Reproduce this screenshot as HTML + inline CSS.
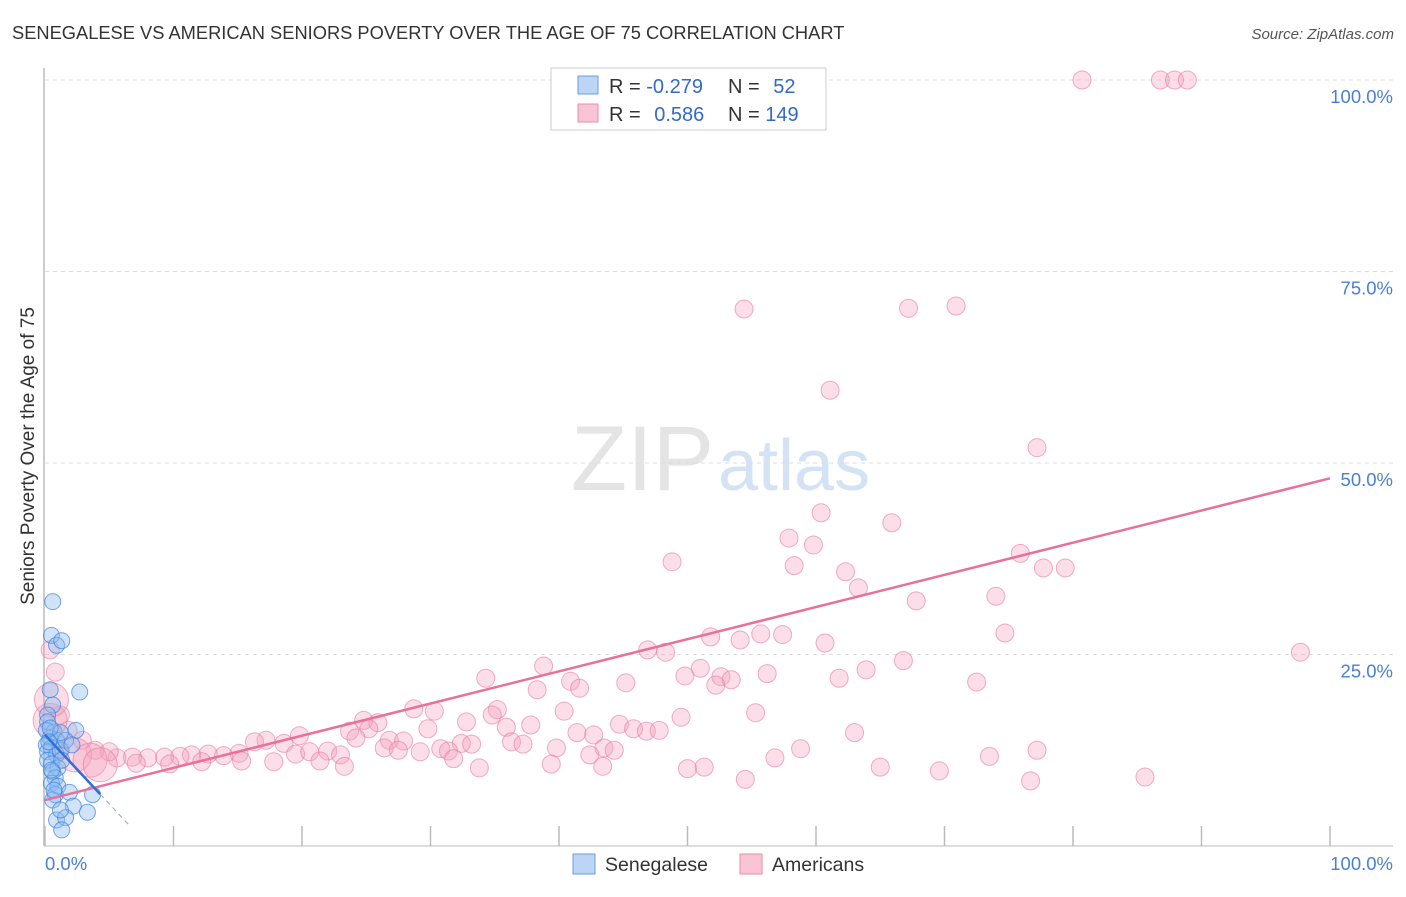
<!DOCTYPE html>
<html><head><meta charset="utf-8"><style>
body{margin:0;background:#fff;font-family:"Liberation Sans",sans-serif}
svg text{font-family:"Liberation Sans",sans-serif}
</style></head><body>
<svg id="c" width="1406" height="892" xmlns="http://www.w3.org/2000/svg">
<text x="12" y="39" font-size="18.3" fill="#333">SENEGALESE VS AMERICAN SENIORS POVERTY OVER THE AGE OF 75 CORRELATION CHART</text>
<text x="1394" y="39" font-size="15" fill="#555" text-anchor="end" font-style="italic">Source: ZipAtlas.com</text>
<text x="714" y="490" font-size="92" fill="#e4e4e4" text-anchor="end" font-family="Liberation Serif">ZIP</text>
<text x="718" y="490" font-size="72" fill="#d4e3f3">atlas</text>
<g id="grid"></g><g id="pts"></g><g id="lines"></g>
<text x="34" y="456" font-size="19" fill="#333" text-anchor="middle" transform="rotate(-90 34 456)">Seniors Poverty Over the Age of 75</text>
<text x="45" y="870" font-size="18.5" fill="#4a7fd6">0.0%</text>
<text x="1393" y="870" font-size="18.5" fill="#4a7fd6" text-anchor="end">100.0%</text>
<g>
<rect x="551" y="68" width="275" height="62" fill="#fff" stroke="#ccc"/>
<rect x="578" y="76" width="20" height="18" fill="#bcd5f5" stroke="#6a9be0"/>
<rect x="578" y="104" width="20" height="18" fill="#f9c5d5" stroke="#ec8bab"/>
<text x="609" y="93" font-size="20" fill="#333">R = <tspan fill="#3569c7">-0.279</tspan></text>
<text x="728" y="93" font-size="20" fill="#333">N = <tspan fill="#3569c7" dx="8">52</tspan></text>
<text x="609" y="121" font-size="20" fill="#333">R = <tspan fill="#3569c7" dx="8">0.586</tspan></text>
<text x="728" y="121" font-size="20" fill="#333">N = <tspan fill="#3569c7">149</tspan></text>
</g>
<g>
<rect x="573" y="854" width="22" height="20" fill="#bcd5f5" stroke="#6a9be0"/>
<text x="605" y="871" font-size="19.5" fill="#333">Senegalese</text>
<rect x="740" y="854" width="22" height="20" fill="#f9c5d5" stroke="#ec8bab"/>
<text x="772" y="871" font-size="19.5" fill="#333">Americans</text>
</g>
</svg>
<script>
const yTicks=[25,50,75,100];
const yTickLabels=["25.0%","50.0%","75.0%","100.0%"];
const xTicks=[0,10,20,30,40,50,60,70,80,90,100];
const pinkX=[80.7,86.8,87.9,88.9,54.4,67.2,70.9,61.1,77.2,60.4,65.9,57.9,59.8,75.9,48.8,58.3,62.3,77.7,79.4,63.3,74,67.8,51.8,54.1,55.7,57.4,74.7,60.7,46.9,48.3,97.7,66.8,51,63.9,38.8,49.8,52.6,53.4,56.2,61.8,72.5,34.3,40.9,45.2,52.2,41.6,38.3,28.7,30.3,35.2,34.8,40.4,55.3,49.5,24.8,25.9,32.8,44.7,35.9,37.8,29.8,23.7,25.2,45.8,46.8,47.8,41.4,42.7,63,19.8,24.2,26.8,27.9,32.4,33.2,36.3,37.2,17.2,16.3,18.6,26.4,27.5,30.8,31.4,39.8,43.5,44.3,58.8,77.2,19.5,20.6,22,23,15.1,13.9,12.7,11.4,10.5,9.3,8,6.8,5.6,42.4,73.5,29.2,31.8,56.8,15.3,17.8,21.4,12.2,9.7,7.1,23.3,33.8,39.4,43.4,50,51.3,65,69.6,54.5,76.7,85.6,0.4,0.8,1.2,1.8,2.9,3.9,5,1.2,0.4,2.3,3.5,4.3,0.5];
const pinkY=[100,100,100,100,70.1,70.2,70.5,59.5,52,43.5,42.2,40.2,39.3,38.2,37.1,36.6,35.8,36.3,36.3,33.7,32.6,32,27.3,26.9,27.7,27.6,27.8,26.5,25.6,25.3,25.3,24.2,23.2,23,23.5,22.2,22.1,21.7,22.5,21.9,21.4,21.9,21.5,21.3,21,20.6,20.4,17.9,17.6,17.8,17.1,17.6,17.4,16.8,16.4,16.1,16.2,15.9,15.5,15.8,15.3,15,15.3,15.3,15,15.1,14.8,14.5,14.8,14.4,14.1,13.8,13.7,13.4,13.3,13.6,13.3,13.8,13.6,13.4,12.8,12.5,12.7,12.4,12.8,12.8,12.5,12.7,12.5,12,12.3,12.4,11.9,12.1,11.8,12,11.9,11.7,11.6,11.5,11.6,11.5,11.9,11.7,12.3,11.4,11.5,11.1,11,11.1,11,10.7,10.8,10.4,10.2,10.7,10.4,10.1,10.3,10.3,9.8,8.7,8.5,9,25.6,22.7,17.1,15.1,13.8,12.5,12.3,12.5,16.4,11.9,11.2,10.6,19.1];
const pinkBig=[132,133,134,135,136,137,138,139,140,141,142,143];
const blueX=[0.6,0.5,0.9,1.3,0.4,2.7,0.6,0.2,0.2,0.7,0.4,0.9,0.1,0.5,0.2,0.9,1.2,0.2,0.5,1,0.6,0.8,0.5,1,0.1,2.4,1.6,1.2,2.1,1.3,0.8,0.6,1.9,2.2,0.9,1.6,1.3,3.7,3.3,0.4,0.3,0.5,0.7,1.2];
const blueY=[31.9,27.5,26.2,26.8,20.4,20.1,18.4,17.1,16.2,14.9,14.1,13.8,13.2,12.8,12.3,11.9,12.5,11.2,10.7,10.2,9.7,8.9,8.2,7.8,15.1,15.1,13.8,14.8,13.2,11.2,6.7,6,7,5.2,3.4,3.7,2.1,6.7,4.4,15.4,13.6,9.9,7.3,4.7];
const pinkTrend=[6,48];
const blueTrend=[14.5,-1.8];
const X=v=>45+v*12.85, Y=v=>846-v*7.66;
const NS="http://www.w3.org/2000/svg";
function mk(t,a,p){const e=document.createElementNS(NS,t);for(const k in a)e.setAttribute(k,a[k]);p.appendChild(e);return e;}
const g=document.getElementById('grid');
const ax=mk('line',{x1:44,y1:68,x2:44,y2:846,stroke:'#bbb','stroke-width':1.5},g);


const bx=mk('line',{x1:44,y1:846,x2:1393,y2:846,stroke:'#bbb','stroke-width':1},g);


yTicks.forEach((v,i)=>{
 const l=mk('line',{x1:45,y1:Y(v),x2:1393,y2:Y(v),stroke:'#ddd','stroke-dasharray':'4,4'},g);
 
 
 const t=mk('text',{x:1393,y:Y(v)+23,'font-size':18.5,fill:'#4a7fd6','text-anchor':'end'},g);
 t.textContent=yTickLabels[i];
 
 
});
xTicks.forEach(v=>{
 const l=mk('line',{x1:X(v),y1:826,x2:X(v),y2:846,stroke:'#bbb','stroke-width':1.5},g);
 
 
});
const p=document.getElementById('pts');
pinkX.forEach((x,i)=>{
 const r=pinkBig.includes(i)?(i<140?17:12):9;
 const c=mk('circle',{cx:X(x),cy:Y(pinkY[i]),r:r,fill:'rgba(244,160,188,0.35)',stroke:'rgba(232,120,158,0.6)','stroke-width':1},p);
 
 
});
blueX.forEach((x,i)=>{
 const c=mk('circle',{cx:X(x),cy:Y(blueY[i]),r:8,fill:'rgba(140,185,240,0.4)',stroke:'rgba(60,130,220,0.7)','stroke-width':1},p);
 
 
});
const L=document.getElementById('lines');
const pl=mk('line',{x1:X(0),y1:Y(pinkTrend[0]),x2:X(100),y2:Y(pinkTrend[1]),stroke:'#e8709a','stroke-width':2.5},L);


const b=v=>blueTrend[0]+blueTrend[1]*v;
const bl=mk('line',{x1:X(0),y1:Y(b(0)),x2:X(4.3),y2:Y(b(4.3)),stroke:'#2f6fd6','stroke-width':2.5},L);


const bd=mk('line',{x1:X(4.3),y1:Y(b(4.3)),x2:X(6.5),y2:Y(b(6.5)),stroke:'#8aa8d8','stroke-width':1,'stroke-dasharray':'5,4'},L);


</script>
</body></html>
